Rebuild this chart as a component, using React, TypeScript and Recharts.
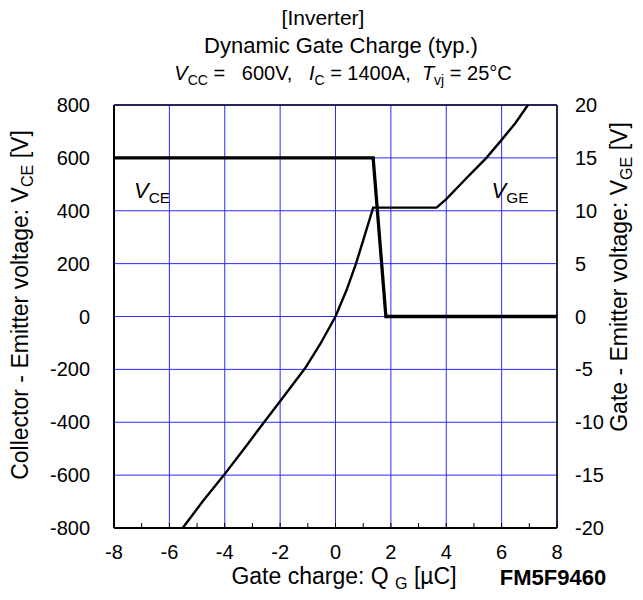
import { LineChart, Line, XAxis, YAxis, CartesianGrid, ReferenceLine } from 'recharts'
import type { ReactNode, CSSProperties } from 'react'

// gate charge axis (µC)
const qTicks = [-8, -6, -4, -2, 0, 2, 4, 6, 8]
const qAllTicks = [-8, -7, -6, -5, -4, -3, -2, -1, 0, 1, 2, 3, 4, 5, 6, 7, 8]
const vceTicks = [-800, -600, -400, -200, 0, 200, 400, 600, 800]
const vgeTicks = [-20, -15, -10, -5, 0, 5, 10, 15, 20]

// collector-emitter voltage
const qVce = [-8, 1.36, 1.82, 8]
const vce = [600, 600, 0, 0]

// gate-emitter voltage
const qVge = [-5.52, -4.8, -4.03, -3.3, -2.58, -1.85, -1.1, -0.55, 0, 0.4, 0.74, 1.0, 1.36, 3.65, 4.0, 4.7, 5.45, 6.0, 6.5, 6.95]
const vge = [-20, -17.5, -15, -12.5, -10, -7.5, -4.9, -2.6, 0, 2.5, 5, 7.2, 10.3, 10.3, 11.1, 13.0, 15, 16.7, 18.3, 20]

const vceData = qVce.map((q, i) => ({ q, v: vce[i] }))
const vgeData = qVge.map((q, i) => ({ q, v: vge[i] }))

const FONT = '"Liberation Sans", Arial, sans-serif'
const GRID = '#2a2aff'
const X_TICK_MARGIN = 17

const tickStyle = { fontSize: 20, fill: '#000', fontFamily: FONT }

// every 1 µC: short inward tick; label only on the even values
function QTick({ x, y, payload }: any) {
  const axisY = y - X_TICK_MARGIN
  const v = payload.value as number
  return (
    <g>
      <line x1={x} x2={x} y1={axisY} y2={axisY - 5} stroke="#000" strokeWidth={1} />
      {v % 2 === 0 && (
        <text x={x} y={y} dy="0.71em" textAnchor="middle" {...tickStyle}>{v}</text>
      )}
    </g>
  )
}

function Sub({ children }: { children: ReactNode }) {
  return <span style={{ fontSize: '0.7em', verticalAlign: '-0.3em' }}>{children}</span>
}

function Txt({ x, y, size, children, rotate, bold }: {
  x: number; y: number; size: number; children: ReactNode; rotate?: boolean; bold?: boolean
}) {
  const style: CSSProperties = {
    position: 'absolute',
    left: x,
    top: y,
    fontSize: size,
    fontFamily: FONT,
    fontWeight: bold ? 'bold' : 'normal',
    lineHeight: 1,
    whiteSpace: 'pre',
    color: '#000',
    transform: 'translate(-50%, -50%)' + (rotate ? ' rotate(-90deg)' : ''),
  }
  return <div style={style}>{children}</div>
}

export default function App() {
  return (
    <div style={{ position: 'absolute', left: 0, top: 0, width: 643, height: 600, background: '#fff' }}>
      <LineChart width={643} height={600} margin={{ top: 105, right: 30, left: 54, bottom: 32 }}>
        <CartesianGrid stroke={GRID} strokeWidth={1} yAxisId="vce" horizontalValues={vceTicks} verticalValues={qTicks} />
        <XAxis
          dataKey="q"
          type="number"
          domain={[-8, 8]}
          ticks={qAllTicks}
          interval={0}
          height={40}
          tick={<QTick />}
          tickLine={false}
          tickSize={0}
          tickMargin={X_TICK_MARGIN}
          axisLine={{ stroke: '#000', strokeWidth: 2 }}
        />
        <YAxis
          yAxisId="vce"
          type="number"
          domain={[-800, 800]}
          ticks={vceTicks}
          width={60}
          tick={tickStyle}
          tickLine={false}
          tickSize={0}
          tickMargin={24}
          axisLine={{ stroke: '#000', strokeWidth: 2 }}
        />
        <YAxis
          yAxisId="vge"
          orientation="right"
          type="number"
          domain={[-20, 20]}
          ticks={vgeTicks}
          width={56}
          tick={{ ...tickStyle, textAnchor: 'start' }}
          tickLine={false}
          tickSize={0}
          tickMargin={18}
          axisLine={{ stroke: '#000', strokeWidth: 1.5 }}
        />
        <ReferenceLine yAxisId="vce" y={800} stroke="#000022" strokeWidth={1.5} />
        <Line
          yAxisId="vce"
          data={vceData}
          dataKey="v"
          type="linear"
          stroke="#000"
          strokeWidth={3.3}
          dot={false}
          isAnimationActive={false}
        />
        <Line
          yAxisId="vge"
          data={vgeData}
          dataKey="v"
          type="linear"
          stroke="#000"
          strokeWidth={2.4}
          dot={false}
          isAnimationActive={false}
        />
      </LineChart>

      <Txt x={323} y={17} size={21}>[Inverter]</Txt>
      <Txt x={341} y={46} size={22}>Dynamic Gate Charge (typ.)</Txt>
      <Txt x={343} y={75} size={20}>
        <i>V</i><Sub>CC</Sub>{' =   600V,   '}<i>I</i><Sub>C</Sub>{' = 1400A,  '}<i>T</i><Sub>vj</Sub>{' = 25°C'}
      </Txt>

      <Txt x={152} y={193} size={22}><i>V</i><Sub>CE</Sub></Txt>
      <Txt x={510} y={193} size={22}><i>V</i><Sub>GE</Sub></Txt>

      <Txt x={22} y={305} size={23} rotate>
        Collector - Emitter voltage: V<Sub>CE</Sub> [V]
      </Txt>
      <Txt x={621} y={277} size={23} rotate>
        Gate - Emitter voltage: V<Sub>GE</Sub> [V]
      </Txt>
      <Txt x={344} y={578} size={23}>
        Gate charge: Q <Sub>G</Sub> [µC]
      </Txt>
      <Txt x={553} y={578} size={22} bold>FM5F9460</Txt>
    </div>
  )
}
